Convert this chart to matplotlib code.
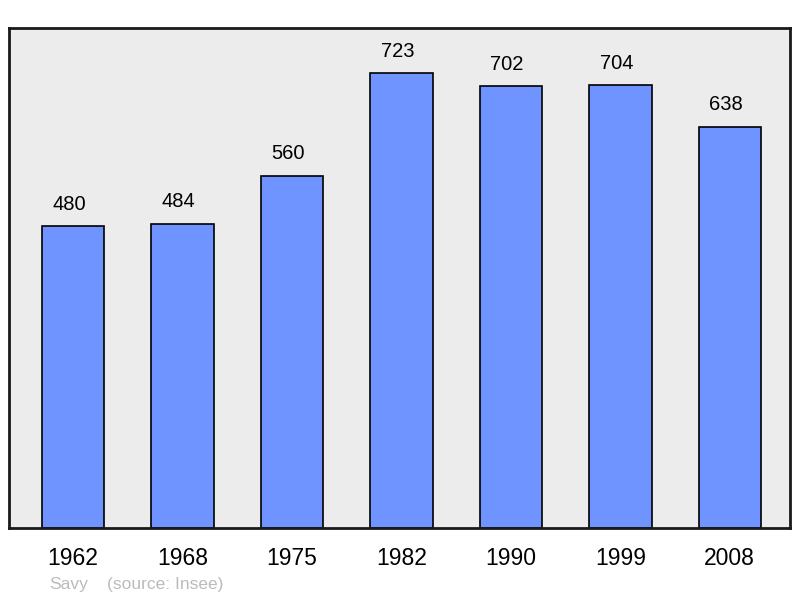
import matplotlib
matplotlib.use("Agg")
import matplotlib.pyplot as plt
from matplotlib.transforms import ScaledTranslation

# Population data
years = ["1962", "1968", "1975", "1982", "1990", "1999", "2008"]
population = [480, 484, 560, 723, 702, 704, 638]

plt.rcParams['font.family'] = ['Liberation Sans', 'DejaVu Sans']

fig = plt.figure(figsize=(8, 5.98), dpi=100)
ax = fig.add_axes([9 / 800, 70 / 598, 781 / 800, 500 / 598])
ax.set_facecolor('#ececec')

x = range(len(years))
ax.bar(x, population, width=0.57, color='#7094ff', edgecolor='black', linewidth=1.2, zorder=2)

# labels sit a little left of the bar centre in the original
shift = ax.transData + ScaledTranslation(-4 / 100, 0, fig.dpi_scale_trans)
for xi, v in zip(x, population):
    ax.text(xi, v + 20, str(v), ha='center', va='bottom', fontsize=14.5, transform=shift)

ax.set_xlim(-0.585, 6.55)
ax.set_ylim(0, 795)
ax.set_xticks(list(x))
ax.set_xticklabels(years, fontsize=16.5)
ax.tick_params(axis='x', length=0, pad=14)
ax.set_yticks([])
for s in ax.spines.values():
    s.set_linewidth(2)
    s.set_color('#1a1a1a')

fig.text(49 / 800, 1 - 584 / 598, "Savy", color='#bbbbbb',
         fontsize=12.5, va='center', ha='left')
fig.text(107 / 800, 1 - 584 / 598, "(source: Insee)", color='#bbbbbb',
         fontsize=12.5, va='center', ha='left')

fig.savefig("out.png", dpi=100)
